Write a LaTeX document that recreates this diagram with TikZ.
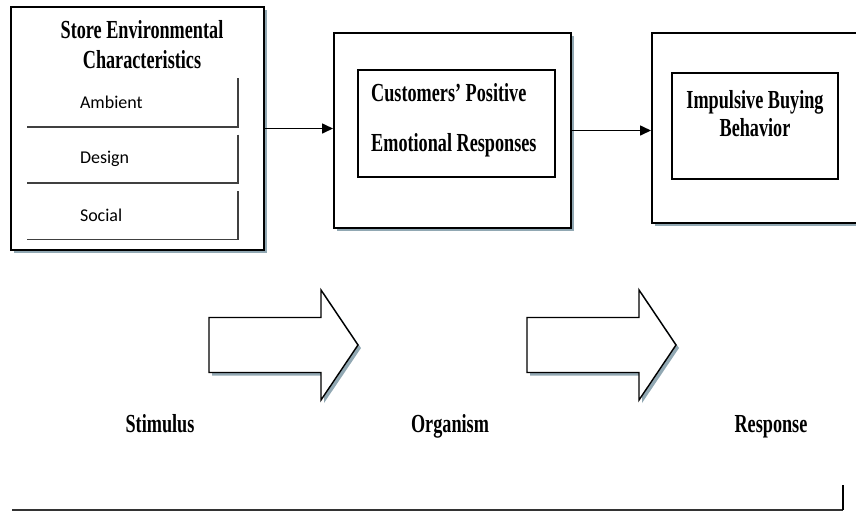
\documentclass[tikz,border=0pt]{standalone}
\usepackage{fontspec}
\usetikzlibrary{arrows.meta,positioning,shadows}
\newfontfamily\headfont[FakeStretch=0.7]{Liberation Serif}
\newfontfamily\catfont{Carlito}
\definecolor{shadowblue}{RGB}{118,146,160}

\begin{document}
\begin{tikzpicture}[x=1pt, y=-1pt, node distance=8pt,
  outer/.style={draw, line width=2pt, fill=white, inner sep=0pt, drop shadow={shadow xshift=3pt, shadow yshift=-3pt, fill=shadowblue, opacity=0.8}},
  inner/.style={draw, line width=1.6pt, inner sep=0pt},
  head/.style={font=\headfont\bfseries\fontsize{26}{30}\selectfont, inner sep=0pt},
  catbox/.style={inner xsep=53pt, inner ysep=0pt, text width=105pt, minimum height=48pt, align=left, font=\catfont\fontsize{18}{20}\selectfont},
  catedge/.style={draw=black!75, line width=1.6pt},
  conn/.style={-{Triangle[length=11pt,width=10pt]}, line width=1.6pt},
  flowpath/.style={draw, line width=1.4pt, fill=white, line join=miter, drop shadow={shadow xshift=3pt, shadow yshift=-3pt, fill=shadowblue, opacity=0.8}},
  bigarrow/.pic={
    \path[flowpath] (0,-27.5) -- (112,-27.5) -- (112,-55) -- (149,0)
      -- (112,55) -- (112,27.5) -- (0,27.5) -- cycle;
    \coordinate (-tip) at (149,0);
  }]
\clip (0,0) rectangle (856,512);

% S-O-R boxes
\node[outer, minimum width=253pt, minimum height=243pt] (stimbox) at (137.5,128.5) {};
\node[outer, minimum width=237pt, minimum height=195pt] (orgbox) at (452.5,130.5) {};
\node[outer, minimum width=218pt, minimum height=190pt] (respbox) at (761,128) {};

% stimulus side
\node[head, align=center] (envtitle) at (142,45) {Store Environmental\\Characteristics};
\node[catbox] (amb) at (132.5,102.5) {Ambient};
\node[catbox, below=of amb] (des) {Design};
\node[catbox, below=of des] (soc) {Social};
\foreach \n in {amb,des,soc}
  \draw[catedge] (\n.north east) -- (\n.south east) -- (\n.south west);

% organism and response
\node[inner, minimum width=197pt, minimum height=107pt] (emoframe) at (456.5,123.5) {};
\node[head, align=left, anchor=west] (emotext) at (371,120.5) {Customers’ Positive\\[20pt]Emotional Responses};
\node[inner, minimum width=166pt, minimum height=106pt] (buyframe) at (755,126) {};
\node[head, align=center, font=\headfont\bfseries\fontsize{26}{28}\selectfont] (buytext) at (755,114) {Impulsive Buying\\Behavior};

\draw[conn] (stimbox.east) -- (stimbox.east -| orgbox.west);
\draw[conn] (orgbox.east) -- (orgbox.east -| respbox.west);

% big arrows and stage labels
\pic (flowA) at (209,345) {bigarrow};
\pic (flowB) at (527,345) {bigarrow};
\node[head, anchor=base] (stim) at (160,432) {Stimulus};
\node[head, anchor=base] (orgn) at (450,432) {Organism};
\node[head, anchor=base] (resp) at (771,432) {Response};

\coordinate (baseL) at (12,510);
\coordinate (baseR) at (843,510);
\draw[line width=1.2pt, black!80] (baseL) -- (baseR);
\draw[line width=1.8pt] (baseR) -- ++(0,-25);
\end{tikzpicture}
\end{document}
